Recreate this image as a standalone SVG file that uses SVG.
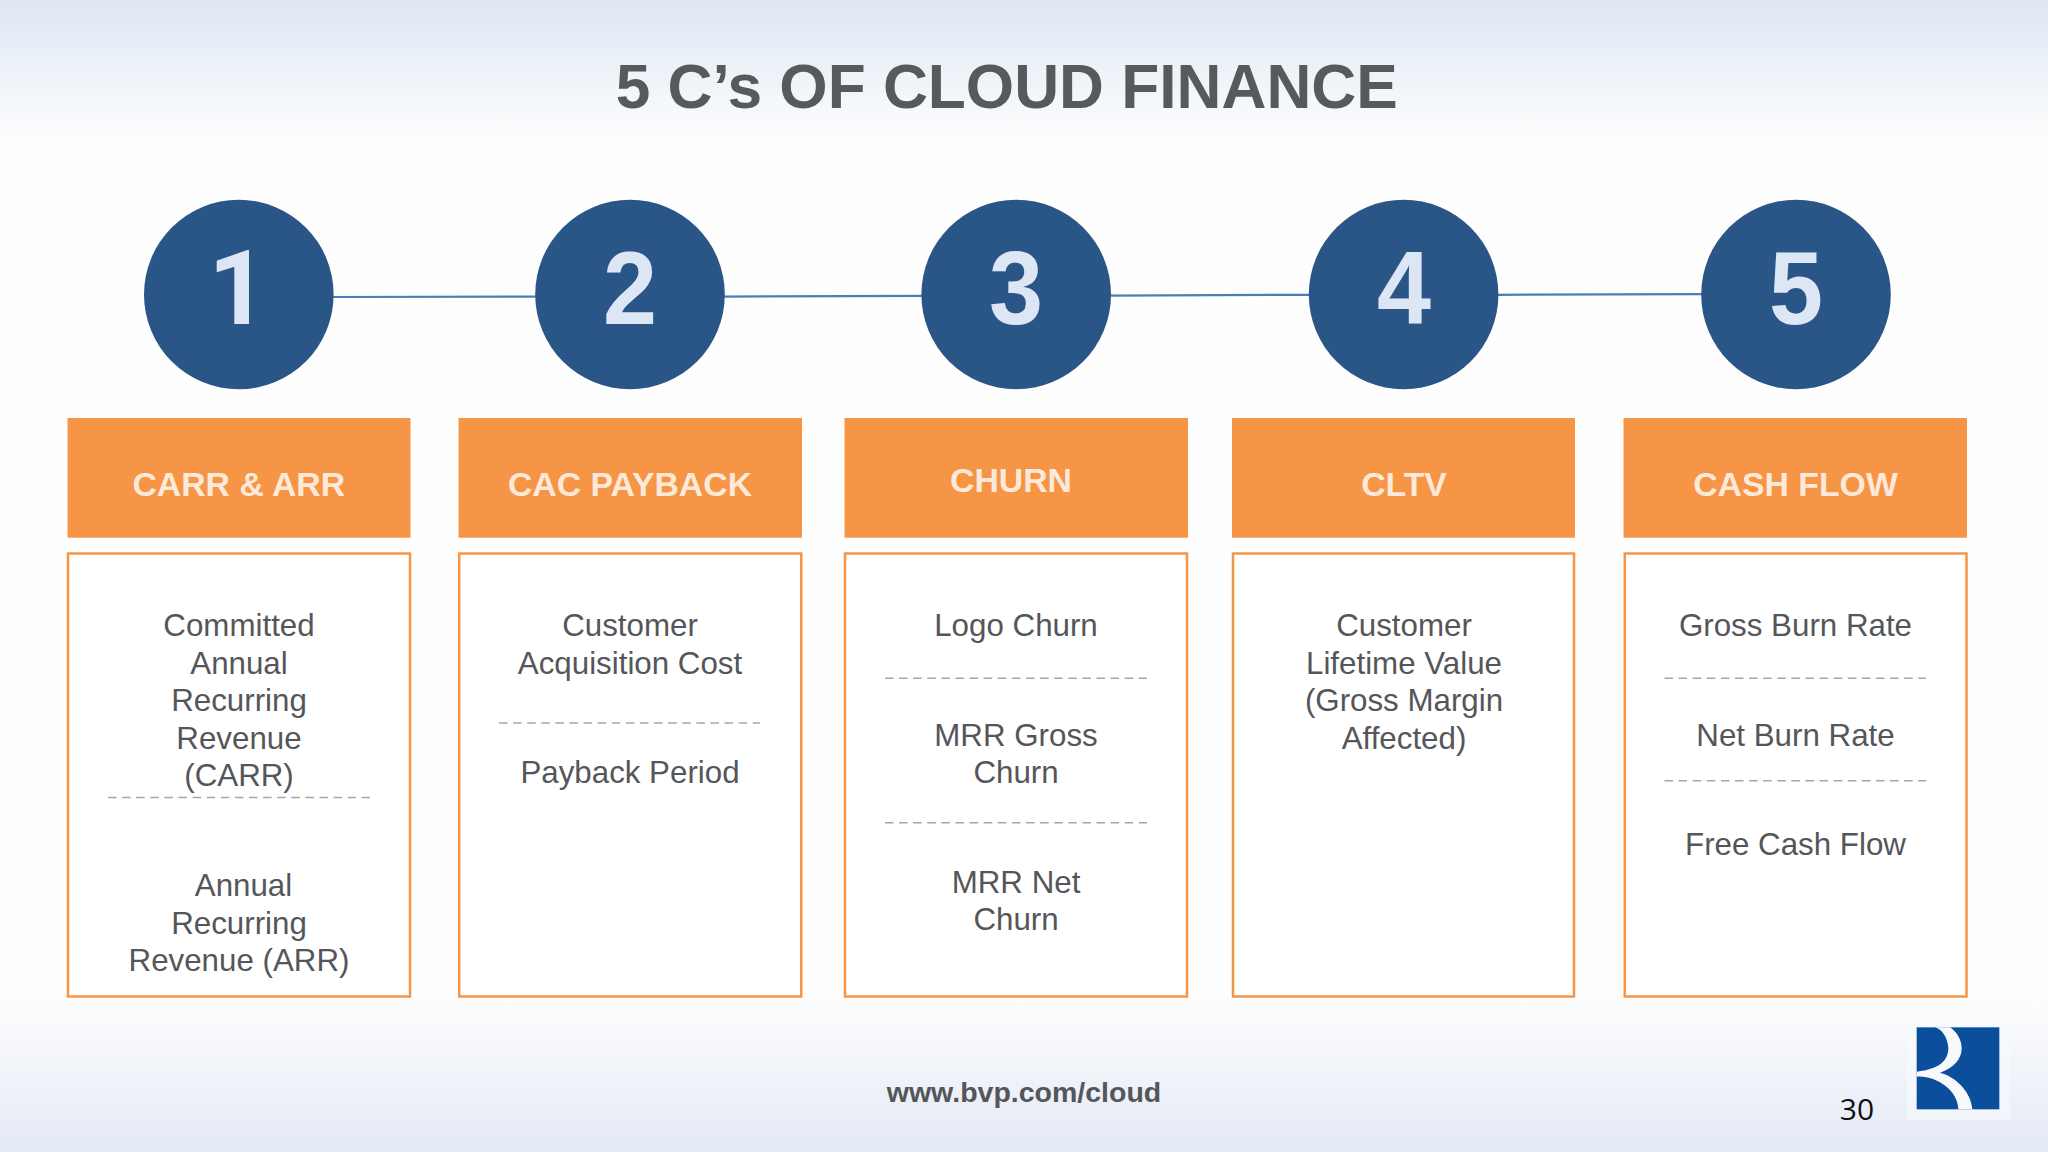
<svg xmlns="http://www.w3.org/2000/svg" width="2048" height="1152" viewBox="0 0 2048 1152">
<style>
text{font-family:"Liberation Sans",Arial,sans-serif;text-anchor:middle}
.title{font-size:63px;font-weight:700;fill:#58595b}
.num{font-size:103px;font-weight:700;fill:#dce6f4}
.one{font-family:Roboto,"Liberation Sans",sans-serif;font-size:104px}
.hd{font-size:33.8px;font-weight:700;fill:#fde9d9}
.t{font-size:31.3px;fill:#55565a}
.web{font-size:28.5px;font-weight:700;fill:#55565a}
.pg{font-family:"Open Sans","Noto Sans",sans-serif;font-size:30px;fill:#111}
.c{fill:#2a5587}
.o{fill:#f69545}
.b{fill:#fff;stroke:#f69545;stroke-width:2.5}
.d{stroke:#a6a6a6;stroke-width:1.6;stroke-dasharray:8.5 5.6;fill:none}
.l{stroke:#4a7ebb;stroke-width:2.2;fill:none}
</style>
<defs>
<linearGradient id="bg" x1="0" y1="0" x2="0" y2="1">
<stop offset="0" stop-color="#dde7f3"/>
<stop offset=".125" stop-color="#fefefe"/>
<stop offset=".86" stop-color="#fefefe"/>
<stop offset="1" stop-color="#e3e9f5"/>
</linearGradient>
</defs>
<rect width="2048" height="1152" fill="url(#bg)"/>
<text class="title" x="1006.7" y="108" textLength="782" lengthAdjust="spacingAndGlyphs">5 C’s OF CLOUD FINANCE</text>
<g id="connectors">
<line class="l" x1="333" y1="297" x2="536" y2="296.6"/>
<line class="l" x1="724" y1="296.6" x2="922" y2="295.8"/>
<line class="l" x1="1110" y1="295.6" x2="1310" y2="294.8"/>
<line class="l" x1="1498" y1="294.8" x2="1702" y2="294.2"/>
</g>
<g id="node-1">
<circle class="c" cx="238.8" cy="294.5" r="94.8"/>
<text class="num one" x="238" y="324">1</text>
<rect class="o" x="67.5" y="418" width="343" height="119.7"/>
<text class="hd" x="238.8" y="495.5">CARR &amp; ARR</text>
<rect class="b" x="68" y="553.5" width="342" height="443"/>
<text class="t" x="239" y="636.3">Committed</text>
<text class="t" x="239" y="673.8">Annual</text>
<text class="t" x="239" y="711.3">Recurring</text>
<text class="t" x="239" y="748.8">Revenue</text>
<text class="t" x="239" y="786.3">(CARR)</text>
<line class="d" x1="108" y1="797.5" x2="370" y2="797.5"/>
<text class="t" x="243.5" y="896.3">Annual</text>
<text class="t" x="239" y="933.8">Recurring</text>
<text class="t" x="239" y="971.3">Revenue (ARR)</text>
</g>
<g id="node-2">
<circle class="c" cx="630" cy="294.5" r="94.8"/>
<text class="num" x="630" y="324" textLength="54" lengthAdjust="spacingAndGlyphs">2</text>
<rect class="o" x="458.5" y="418" width="343.5" height="119.7"/>
<text class="hd" x="630" y="495.5">CAC PAYBACK</text>
<rect class="b" x="459.2" y="553.5" width="342" height="443"/>
<text class="t" x="630" y="636.3">Customer</text>
<text class="t" x="630" y="673.8">Acquisition Cost</text>
<line class="d" x1="499" y1="723" x2="760" y2="723"/>
<text class="t" x="630" y="783">Payback Period</text>
</g>
<g id="node-3">
<circle class="c" cx="1016.2" cy="294.5" r="94.8"/>
<text class="num" x="1016" y="324" textLength="54" lengthAdjust="spacingAndGlyphs">3</text>
<rect class="o" x="844.5" y="418" width="343.5" height="119.7"/>
<text class="hd" x="1011" y="492.3">CHURN</text>
<rect class="b" x="845" y="553.5" width="342" height="443"/>
<text class="t" x="1016" y="636.3">Logo Churn</text>
<line class="d" x1="885" y1="678.3" x2="1147" y2="678.3"/>
<text class="t" x="1016" y="745.5">MRR Gross</text>
<text class="t" x="1016" y="783">Churn</text>
<line class="d" x1="885" y1="822.7" x2="1147" y2="822.7"/>
<text class="t" x="1016" y="892.5">MRR Net</text>
<text class="t" x="1016" y="930">Churn</text>
</g>
<g id="node-4">
<circle class="c" cx="1403.6" cy="294.5" r="94.8"/>
<text class="num" x="1404" y="324" textLength="54" lengthAdjust="spacingAndGlyphs">4</text>
<rect class="o" x="1232" y="418" width="343" height="119.7"/>
<text class="hd" x="1404" y="495.5">CLTV</text>
<rect class="b" x="1233" y="553.5" width="341" height="443"/>
<text class="t" x="1404" y="636.3">Customer</text>
<text class="t" x="1404" y="673.8">Lifetime Value</text>
<text class="t" x="1404" y="711.3">(Gross Margin</text>
<text class="t" x="1404" y="748.8">Affected)</text>
</g>
<g id="node-5">
<circle class="c" cx="1796" cy="294.5" r="94.8"/>
<text class="num" x="1796" y="324" textLength="54" lengthAdjust="spacingAndGlyphs">5</text>
<rect class="o" x="1623.5" y="418" width="343.5" height="119.7"/>
<text class="hd" x="1795.5" y="495.5">CASH FLOW</text>
<rect class="b" x="1624.8" y="553.5" width="341.7" height="443"/>
<text class="t" x="1795.5" y="636.3">Gross Burn Rate</text>
<line class="d" x1="1664.5" y1="678.3" x2="1926" y2="678.3"/>
<text class="t" x="1795.5" y="745.5">Net Burn Rate</text>
<line class="d" x1="1664.5" y1="780.7" x2="1926" y2="780.7"/>
<text class="t" x="1795.5" y="854.5">Free Cash Flow</text>
</g>
<text class="web" x="1024" y="1102">www.bvp.com/cloud</text>
<text class="pg" x="1857" y="1120">30</text>
<g id="logo" transform="translate(1780 980) scale(.33333)">
<rect x="380" y="112" width="310" height="308" fill="#f9fbfd" opacity=".6"/>
<rect x="410" y="142" width="248" height="246" fill="#0b4f9c"/>
<path fill="#f7f9fc" d="M465 142C495 150 505 190 505 205C505 240 480 268 410 275V290C465 285 535 330 535 388H577C575 340 530 290 480 278C525 262 545 235 545 205C545 180 530 155 510 142Z"/>
</g>
</svg>
